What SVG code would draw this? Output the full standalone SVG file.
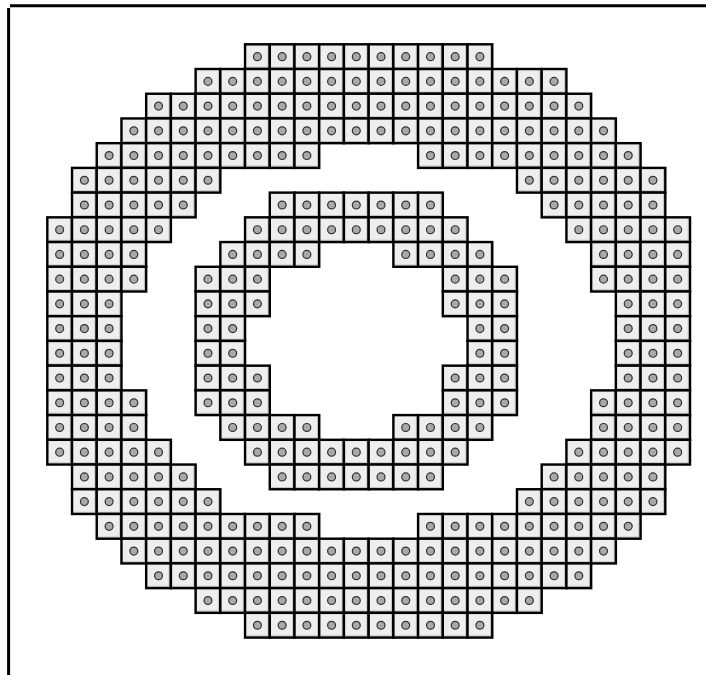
<svg xmlns="http://www.w3.org/2000/svg" width="706" height="675" viewBox="0 0 706 675">
<style>
.frame{stroke:#000;stroke-width:3;fill:none}
</style>
<defs>
<g id="c">
<rect width="1" height="1" fill="#eeeeee" stroke="none"/>
<path d="M0.93 0.05V0.93H0.05" fill="none" stroke="#c4c4c4" stroke-width="0.045"/>
<rect width="1" height="1" fill="none" stroke="#000" stroke-width="0.098"/>
<circle cx="0.5" cy="0.5" r="0.16" fill="#a9a9a9" stroke="#333" stroke-width="0.05"/>
</g>
</defs>
<rect width="706" height="675" fill="#fff"/>
<g id="frame">
<line class="frame" x1="10" y1="5.7" x2="706" y2="5.7"/>
<line class="frame" x1="8.6" y1="8" x2="8.6" y2="675"/>
</g>
<g transform="translate(47.3 44.3) scale(24.72)">
<g id="outer-ring">
<g transform="translate(0 0)"><use href="#c" x="8"/><use href="#c" x="9"/><use href="#c" x="10"/><use href="#c" x="11"/><use href="#c" x="12"/><use href="#c" x="13"/><use href="#c" x="14"/><use href="#c" x="15"/><use href="#c" x="16"/><use href="#c" x="17"/></g>
<g transform="translate(0 1)"><use href="#c" x="6"/><use href="#c" x="7"/><use href="#c" x="8"/><use href="#c" x="9"/><use href="#c" x="10"/><use href="#c" x="11"/><use href="#c" x="12"/><use href="#c" x="13"/><use href="#c" x="14"/><use href="#c" x="15"/><use href="#c" x="16"/><use href="#c" x="17"/><use href="#c" x="18"/><use href="#c" x="19"/><use href="#c" x="20"/></g>
<g transform="translate(0 2)"><use href="#c" x="4"/><use href="#c" x="5"/><use href="#c" x="6"/><use href="#c" x="7"/><use href="#c" x="8"/><use href="#c" x="9"/><use href="#c" x="10"/><use href="#c" x="11"/><use href="#c" x="12"/><use href="#c" x="13"/><use href="#c" x="14"/><use href="#c" x="15"/><use href="#c" x="16"/><use href="#c" x="17"/><use href="#c" x="18"/><use href="#c" x="19"/><use href="#c" x="20"/><use href="#c" x="21"/></g>
<g transform="translate(0 3)"><use href="#c" x="3"/><use href="#c" x="4"/><use href="#c" x="5"/><use href="#c" x="6"/><use href="#c" x="7"/><use href="#c" x="8"/><use href="#c" x="9"/><use href="#c" x="10"/><use href="#c" x="11"/><use href="#c" x="12"/><use href="#c" x="13"/><use href="#c" x="14"/><use href="#c" x="15"/><use href="#c" x="16"/><use href="#c" x="17"/><use href="#c" x="18"/><use href="#c" x="19"/><use href="#c" x="20"/><use href="#c" x="21"/><use href="#c" x="22"/></g>
<g transform="translate(0 4)"><use href="#c" x="2"/><use href="#c" x="3"/><use href="#c" x="4"/><use href="#c" x="5"/><use href="#c" x="6"/><use href="#c" x="7"/><use href="#c" x="8"/><use href="#c" x="9"/><use href="#c" x="10"/><use href="#c" x="15"/><use href="#c" x="16"/><use href="#c" x="17"/><use href="#c" x="18"/><use href="#c" x="19"/><use href="#c" x="20"/><use href="#c" x="21"/><use href="#c" x="22"/><use href="#c" x="23"/></g>
<g transform="translate(0 5)"><use href="#c" x="1"/><use href="#c" x="2"/><use href="#c" x="3"/><use href="#c" x="4"/><use href="#c" x="5"/><use href="#c" x="6"/><use href="#c" x="19"/><use href="#c" x="20"/><use href="#c" x="21"/><use href="#c" x="22"/><use href="#c" x="23"/><use href="#c" x="24"/></g>
<g transform="translate(0 6)"><use href="#c" x="1"/><use href="#c" x="2"/><use href="#c" x="3"/><use href="#c" x="4"/><use href="#c" x="5"/><use href="#c" x="20"/><use href="#c" x="21"/><use href="#c" x="22"/><use href="#c" x="23"/><use href="#c" x="24"/></g>
<g transform="translate(0 7)"><use href="#c" x="0"/><use href="#c" x="1"/><use href="#c" x="2"/><use href="#c" x="3"/><use href="#c" x="4"/><use href="#c" x="21"/><use href="#c" x="22"/><use href="#c" x="23"/><use href="#c" x="24"/><use href="#c" x="25"/></g>
<g transform="translate(0 8)"><use href="#c" x="0"/><use href="#c" x="1"/><use href="#c" x="2"/><use href="#c" x="3"/><use href="#c" x="22"/><use href="#c" x="23"/><use href="#c" x="24"/><use href="#c" x="25"/></g>
<g transform="translate(0 9)"><use href="#c" x="0"/><use href="#c" x="1"/><use href="#c" x="2"/><use href="#c" x="3"/><use href="#c" x="22"/><use href="#c" x="23"/><use href="#c" x="24"/><use href="#c" x="25"/></g>
<g transform="translate(0 10)"><use href="#c" x="0"/><use href="#c" x="1"/><use href="#c" x="2"/><use href="#c" x="23"/><use href="#c" x="24"/><use href="#c" x="25"/></g>
<g transform="translate(0 11)"><use href="#c" x="0"/><use href="#c" x="1"/><use href="#c" x="2"/><use href="#c" x="23"/><use href="#c" x="24"/><use href="#c" x="25"/></g>
<g transform="translate(0 12)"><use href="#c" x="0"/><use href="#c" x="1"/><use href="#c" x="2"/><use href="#c" x="23"/><use href="#c" x="24"/><use href="#c" x="25"/></g>
<g transform="translate(0 13)"><use href="#c" x="0"/><use href="#c" x="1"/><use href="#c" x="2"/><use href="#c" x="23"/><use href="#c" x="24"/><use href="#c" x="25"/></g>
<g transform="translate(0 14)"><use href="#c" x="0"/><use href="#c" x="1"/><use href="#c" x="2"/><use href="#c" x="3"/><use href="#c" x="22"/><use href="#c" x="23"/><use href="#c" x="24"/><use href="#c" x="25"/></g>
<g transform="translate(0 15)"><use href="#c" x="0"/><use href="#c" x="1"/><use href="#c" x="2"/><use href="#c" x="3"/><use href="#c" x="22"/><use href="#c" x="23"/><use href="#c" x="24"/><use href="#c" x="25"/></g>
<g transform="translate(0 16)"><use href="#c" x="0"/><use href="#c" x="1"/><use href="#c" x="2"/><use href="#c" x="3"/><use href="#c" x="4"/><use href="#c" x="21"/><use href="#c" x="22"/><use href="#c" x="23"/><use href="#c" x="24"/><use href="#c" x="25"/></g>
<g transform="translate(0 17)"><use href="#c" x="1"/><use href="#c" x="2"/><use href="#c" x="3"/><use href="#c" x="4"/><use href="#c" x="5"/><use href="#c" x="20"/><use href="#c" x="21"/><use href="#c" x="22"/><use href="#c" x="23"/><use href="#c" x="24"/></g>
<g transform="translate(0 18)"><use href="#c" x="1"/><use href="#c" x="2"/><use href="#c" x="3"/><use href="#c" x="4"/><use href="#c" x="5"/><use href="#c" x="6"/><use href="#c" x="19"/><use href="#c" x="20"/><use href="#c" x="21"/><use href="#c" x="22"/><use href="#c" x="23"/><use href="#c" x="24"/></g>
<g transform="translate(0 19)"><use href="#c" x="2"/><use href="#c" x="3"/><use href="#c" x="4"/><use href="#c" x="5"/><use href="#c" x="6"/><use href="#c" x="7"/><use href="#c" x="8"/><use href="#c" x="9"/><use href="#c" x="10"/><use href="#c" x="15"/><use href="#c" x="16"/><use href="#c" x="17"/><use href="#c" x="18"/><use href="#c" x="19"/><use href="#c" x="20"/><use href="#c" x="21"/><use href="#c" x="22"/><use href="#c" x="23"/></g>
<g transform="translate(0 20)"><use href="#c" x="3"/><use href="#c" x="4"/><use href="#c" x="5"/><use href="#c" x="6"/><use href="#c" x="7"/><use href="#c" x="8"/><use href="#c" x="9"/><use href="#c" x="10"/><use href="#c" x="11"/><use href="#c" x="12"/><use href="#c" x="13"/><use href="#c" x="14"/><use href="#c" x="15"/><use href="#c" x="16"/><use href="#c" x="17"/><use href="#c" x="18"/><use href="#c" x="19"/><use href="#c" x="20"/><use href="#c" x="21"/><use href="#c" x="22"/></g>
<g transform="translate(0 21)"><use href="#c" x="4"/><use href="#c" x="5"/><use href="#c" x="6"/><use href="#c" x="7"/><use href="#c" x="8"/><use href="#c" x="9"/><use href="#c" x="10"/><use href="#c" x="11"/><use href="#c" x="12"/><use href="#c" x="13"/><use href="#c" x="14"/><use href="#c" x="15"/><use href="#c" x="16"/><use href="#c" x="17"/><use href="#c" x="18"/><use href="#c" x="19"/><use href="#c" x="20"/><use href="#c" x="21"/></g>
<g transform="translate(0 22)"><use href="#c" x="6"/><use href="#c" x="7"/><use href="#c" x="8"/><use href="#c" x="9"/><use href="#c" x="10"/><use href="#c" x="11"/><use href="#c" x="12"/><use href="#c" x="13"/><use href="#c" x="14"/><use href="#c" x="15"/><use href="#c" x="16"/><use href="#c" x="17"/><use href="#c" x="18"/><use href="#c" x="19"/></g>
<g transform="translate(0 23)"><use href="#c" x="8"/><use href="#c" x="9"/><use href="#c" x="10"/><use href="#c" x="11"/><use href="#c" x="12"/><use href="#c" x="13"/><use href="#c" x="14"/><use href="#c" x="15"/><use href="#c" x="16"/><use href="#c" x="17"/></g>
</g>
<g id="inner-ring">
<g transform="translate(0 6)"><use href="#c" x="9"/><use href="#c" x="10"/><use href="#c" x="11"/><use href="#c" x="12"/><use href="#c" x="13"/><use href="#c" x="14"/><use href="#c" x="15"/></g>
<g transform="translate(0 7)"><use href="#c" x="8"/><use href="#c" x="9"/><use href="#c" x="10"/><use href="#c" x="11"/><use href="#c" x="12"/><use href="#c" x="13"/><use href="#c" x="14"/><use href="#c" x="15"/><use href="#c" x="16"/></g>
<g transform="translate(0 8)"><use href="#c" x="7"/><use href="#c" x="8"/><use href="#c" x="9"/><use href="#c" x="10"/><use href="#c" x="14"/><use href="#c" x="15"/><use href="#c" x="16"/><use href="#c" x="17"/></g>
<g transform="translate(0 9)"><use href="#c" x="6"/><use href="#c" x="7"/><use href="#c" x="8"/><use href="#c" x="16"/><use href="#c" x="17"/><use href="#c" x="18"/></g>
<g transform="translate(0 10)"><use href="#c" x="6"/><use href="#c" x="7"/><use href="#c" x="8"/><use href="#c" x="16"/><use href="#c" x="17"/><use href="#c" x="18"/></g>
<g transform="translate(0 11)"><use href="#c" x="6"/><use href="#c" x="7"/><use href="#c" x="17"/><use href="#c" x="18"/></g>
<g transform="translate(0 12)"><use href="#c" x="6"/><use href="#c" x="7"/><use href="#c" x="17"/><use href="#c" x="18"/></g>
<g transform="translate(0 13)"><use href="#c" x="6"/><use href="#c" x="7"/><use href="#c" x="8"/><use href="#c" x="16"/><use href="#c" x="17"/><use href="#c" x="18"/></g>
<g transform="translate(0 14)"><use href="#c" x="6"/><use href="#c" x="7"/><use href="#c" x="8"/><use href="#c" x="16"/><use href="#c" x="17"/><use href="#c" x="18"/></g>
<g transform="translate(0 15)"><use href="#c" x="7"/><use href="#c" x="8"/><use href="#c" x="9"/><use href="#c" x="10"/><use href="#c" x="14"/><use href="#c" x="15"/><use href="#c" x="16"/><use href="#c" x="17"/></g>
<g transform="translate(0 16)"><use href="#c" x="8"/><use href="#c" x="9"/><use href="#c" x="10"/><use href="#c" x="11"/><use href="#c" x="12"/><use href="#c" x="13"/><use href="#c" x="14"/><use href="#c" x="15"/><use href="#c" x="16"/></g>
<g transform="translate(0 17)"><use href="#c" x="9"/><use href="#c" x="10"/><use href="#c" x="11"/><use href="#c" x="12"/><use href="#c" x="13"/><use href="#c" x="14"/><use href="#c" x="15"/></g>
</g>
</g>
</svg>
